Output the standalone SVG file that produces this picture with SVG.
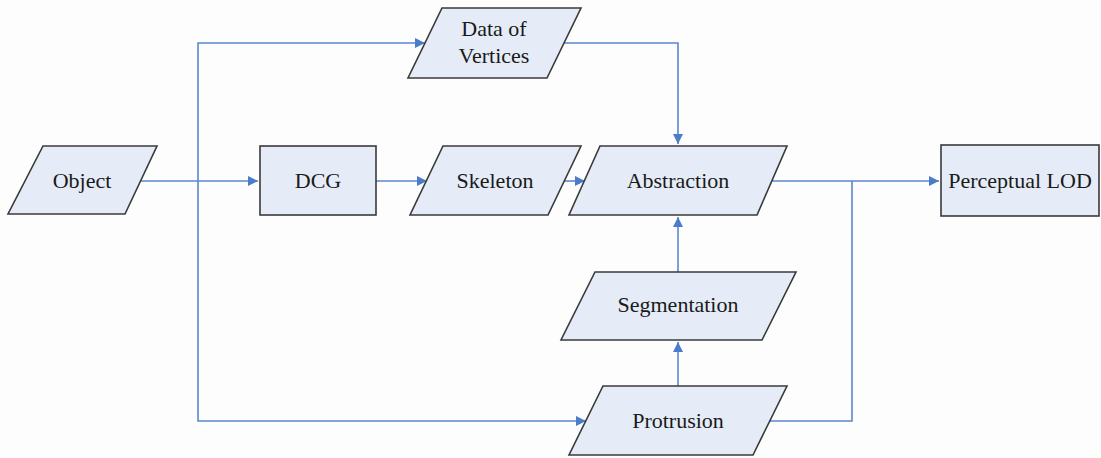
<svg xmlns="http://www.w3.org/2000/svg" width="1101" height="458" viewBox="0 0 1101 458">
<style>
.n{fill:#e5ecf7;stroke:#3a3a3a;stroke-width:1.6}
.t{font-size:22px;fill:#1a1a1a;text-anchor:middle}
.c{fill:none;stroke:#5b87cc;stroke-width:1.6}
</style>
<defs>
<marker id="a" viewBox="0 0 10 10" refX="10" refY="5" markerWidth="10" markerHeight="10" markerUnits="userSpaceOnUse" orient="auto">
<path d="M0,0 L10,5 L0,10 Z" fill="#4a7cc9"/>
</marker>
</defs>
<rect width="1101" height="458" fill="#fdfdfd"/>
<g id="connectors">
<path class="c" d="M140,181 H258" marker-end="url(#a)"/>
<path class="c" d="M198,181 V43 H425" marker-end="url(#a)"/>
<path class="c" d="M198,181 V421 H586" marker-end="url(#a)"/>
<path class="c" d="M376,181 H427" marker-end="url(#a)"/>
<path class="c" d="M564,181 H585" marker-end="url(#a)"/>
<path class="c" d="M564,43 H678 V144" marker-end="url(#a)"/>
<path class="c" d="M678,272 V217" marker-end="url(#a)"/>
<path class="c" d="M678,386 V342" marker-end="url(#a)"/>
<path class="c" d="M772,181 H939" marker-end="url(#a)"/>
<path class="c" d="M770,421 H852 V181"/>
</g>
<g font-family="Liberation Serif, Times New Roman, serif">
<g id="object"><polygon class="n" points="43,146 157,146 125,214 8,214"/><text class="t" x="82" y="188">Object</text></g>
<g id="dcg"><rect class="n" x="260" y="146" width="116" height="69"/><text class="t" x="318" y="188">DCG</text></g>
<g id="data"><polygon class="n" points="442,8 581,8 547,78 408,78"/><text class="t" x="494" y="36">Data of</text><text class="t" x="494" y="63">Vertices</text></g>
<g id="skeleton"><polygon class="n" points="443,146 581,146 548,215 410,215"/><text class="t" x="495" y="188">Skeleton</text></g>
<g id="abstraction"><polygon class="n" points="600,146 787,146 757,215 569,215"/><text class="t" x="678" y="188">Abstraction</text></g>
<g id="segmentation"><polygon class="n" points="595,272 796,272 762,340 561,340"/><text class="t" x="678" y="312">Segmentation</text></g>
<g id="protrusion"><polygon class="n" points="603,386 787,386 753,455 569,455"/><text class="t" x="678" y="428">Protrusion</text></g>
<g id="lod"><rect class="n" x="941" y="145" width="158" height="71"/><text class="t" x="1020" y="188">Perceptual LOD</text></g>
</g>
</svg>
